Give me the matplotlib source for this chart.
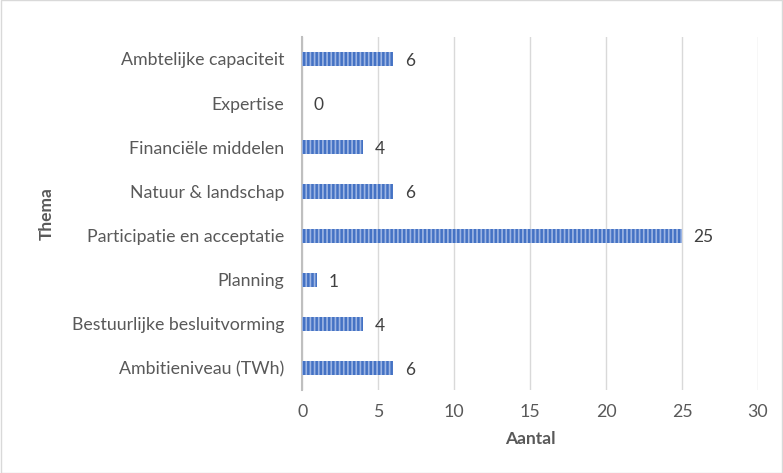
import matplotlib.pyplot as plt

plt.rcParams['font.family'] = ['Lato', 'DejaVu Sans']
plt.rcParams['hatch.linewidth'] = 1.2
plt.rcParams['hatch.color'] = '#9DB5E3'

themas = ['Ambtelijke capaciteit', 'Expertise', 'Financiële middelen', 'Natuur & landschap',
          'Participatie en acceptatie', 'Planning', 'Bestuurlijke besluitvorming', 'Ambitieniveau (TWh)']
aantal = [6, 0, 4, 6, 25, 1, 4, 6]

fig = plt.figure(figsize=(7.83, 4.73), dpi=100)
ax = fig.add_axes([0.386, 0.175, 0.582, 0.747])

pos = list(range(len(themas)))[::-1]
ax.barh(pos, aantal, height=0.32, color='#4472C4', hatch='||||', edgecolor='#9DB5E3', linewidth=0, zorder=3)

for p, v in zip(pos, aantal):
    ax.text(v + 0.75, p - 0.04, str(v), va='center', ha='left', fontsize=12.5, color='#404040')

ax.set_xlim(0, 30)
ax.set_ylim(-0.5, 7.5)
ax.set_xticks(range(0, 31, 5))
ax.set_yticks(pos)
ax.set_yticklabels(themas)
ax.grid(axis='x', color='#D9D9D9', linewidth=1, zorder=0)
for s in ['top', 'right', 'bottom']:
    ax.spines[s].set_visible(False)
ax.spines['left'].set_color('#BFBFBF')
ax.spines['left'].set_linewidth(1.5)
ax.tick_params(axis='both', length=0, labelsize=12.8, colors='#595959')
ax.tick_params(axis='y', pad=13)
ax.tick_params(axis='x', pad=10)
ax.set_xlabel('Aantal', fontsize=12.5, fontweight='bold', color='#595959', labelpad=8)
ax.set_ylabel('Thema', fontsize=12.5, fontweight='bold', color='#595959', labelpad=12)

fig.patches.append(plt.Rectangle((0.001, 0.001), 0.998, 0.998, transform=fig.transFigure,
                                 fill=False, edgecolor='#D9D9D9', linewidth=1))

fig.savefig('out.png', dpi=100)
